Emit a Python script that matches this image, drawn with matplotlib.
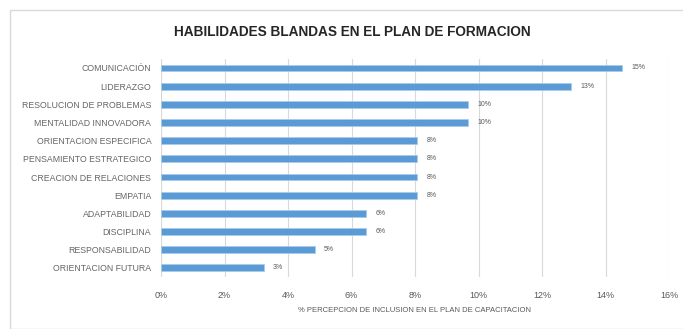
import matplotlib
matplotlib.use('Agg')
import matplotlib.pyplot as plt
from matplotlib.patches import Rectangle

# datos (% sobre el total)
habilidades = ['COMUNICACIÓN', 'LIDERAZGO', 'RESOLUCION DE PROBLEMAS',
               'MENTALIDAD INNOVADORA', 'ORIENTACION ESPECIFICA',
               'PENSAMIENTO ESTRATEGICO', 'CREACION DE RELACIONES', 'EMPATIA',
               'ADAPTABILIDAD', 'DISCIPLINA', 'RESPONSABILIDAD',
               'ORIENTACION FUTURA']
porcentajes = [14.52, 12.90, 9.68, 9.68, 8.06, 8.06, 8.06, 8.06,
               6.45, 6.45, 4.84, 3.23]
ticks_x = [0, 2, 4, 6, 8, 10, 12, 14, 16]

plt.rcParams['font.family'] = ['Liberation Sans', 'DejaVu Sans']

fig = plt.figure(figsize=(6.83, 3.29), dpi=100)
fig.patches.append(Rectangle((10/683, 0), 1, 1 - 10/329, transform=fig.transFigure,
                             fill=False, edgecolor='#d9d9d9', linewidth=1.0))

ax = fig.add_axes([161/683, 0.158, 508/683, 0.663])
pos = list(range(len(habilidades)))
ax.barh(pos, porcentajes, height=0.38, color='#5B9BD5',
        edgecolor='#a9cbea', linewidth=0.6, zorder=3)
for p, v in zip(pos, porcentajes):
    ax.text(v + 0.3, p, '%d%%' % round(v), va='center', ha='left',
            fontsize=5, color='#595959')

ax.set_ylim(len(habilidades) - 0.5, -0.5)
ax.set_xlim(0, 16)
ax.set_yticks(pos)
ax.set_yticklabels(habilidades, fontsize=6.3, color='#666666')
ax.set_xticks(ticks_x)
ax.set_xticklabels(['%d%%' % t for t in ticks_x], fontsize=6.5, color='#595959')
ax.tick_params(length=0, pad=7)
ax.tick_params(axis='x', pad=10)
ax.grid(axis='x', color='#d9d9d9', linewidth=0.8, zorder=0)
for s in ax.spines.values():
    s.set_visible(False)
ax.axvline(0, color='#d9d9d9', linewidth=0.8, zorder=1)

ax.set_xlabel('% PERCEPCION DE INCLUSION EN EL PLAN DE CAPACITACION',
              fontsize=5.5, color='#595959', labelpad=5)
fig.text(352/683, 1 - 32/329, 'HABILIDADES BLANDAS EN EL PLAN DE FORMACION',
         ha='center', va='center', fontsize=9.8, fontweight='bold', color='#262626')

fig.savefig('out.png', dpi=100)
